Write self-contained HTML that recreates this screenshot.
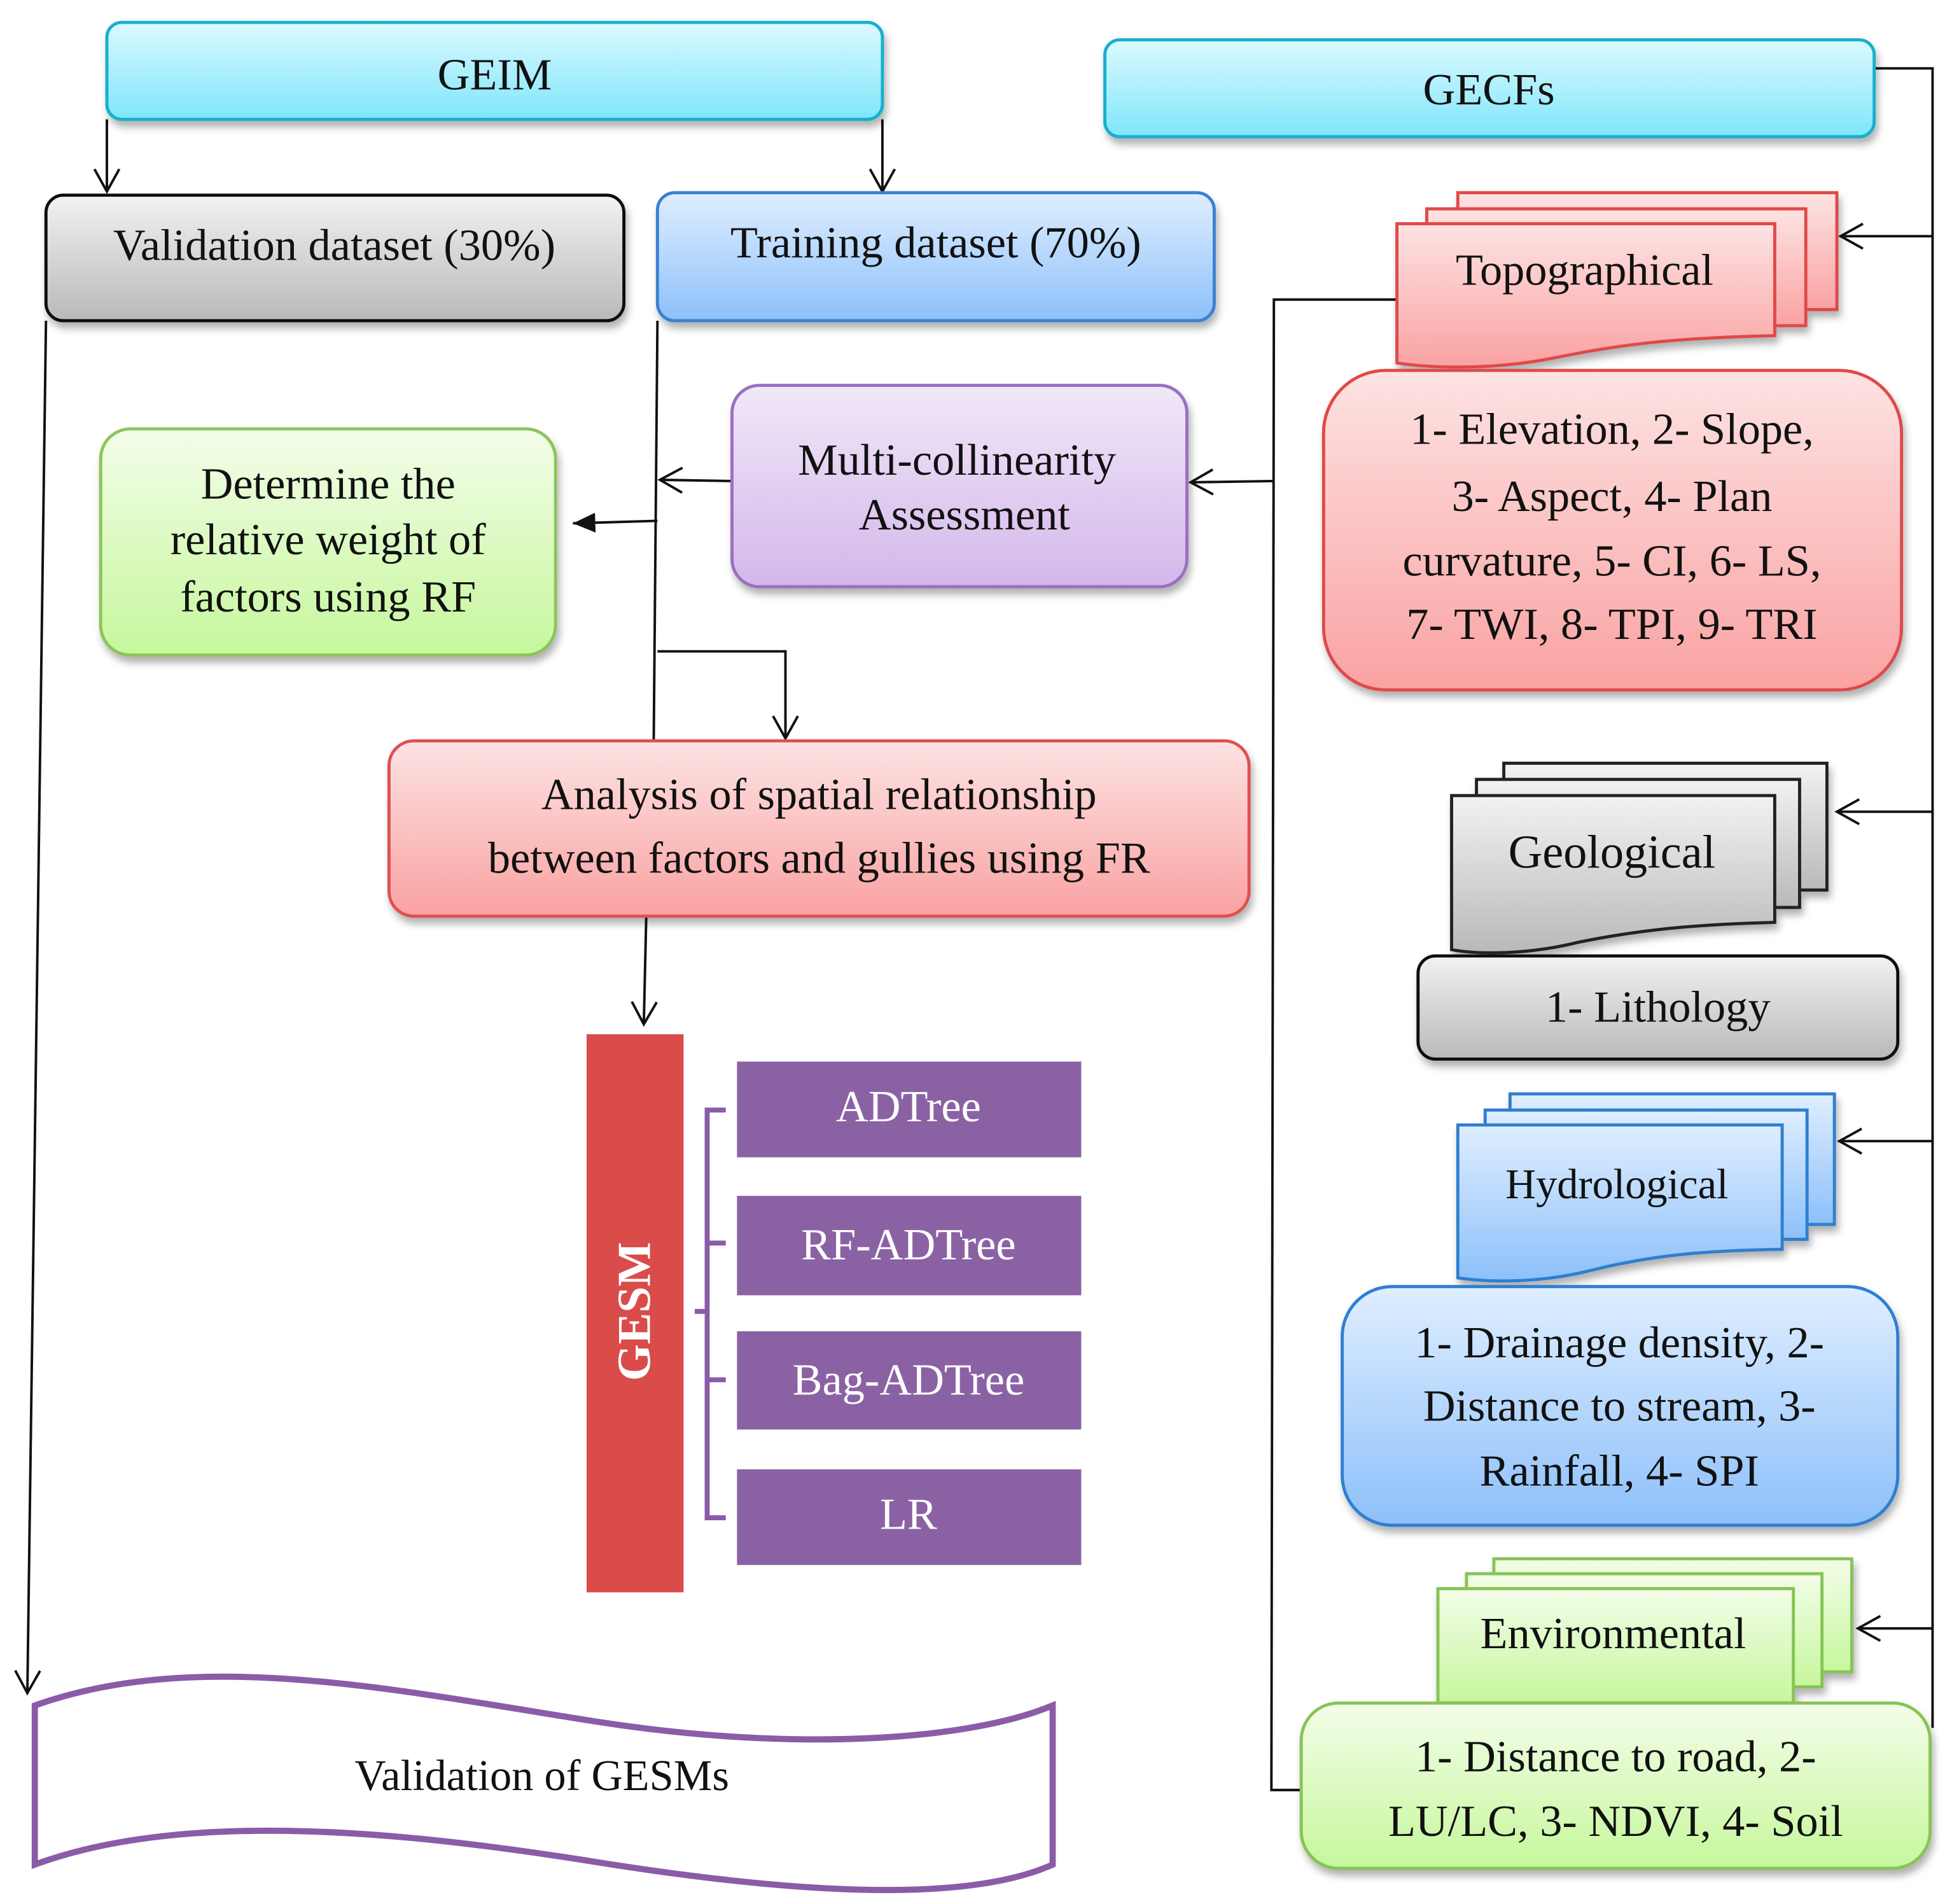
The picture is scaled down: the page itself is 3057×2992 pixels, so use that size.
<!DOCTYPE html>
<html><head><meta charset="utf-8"><style>
html,body{margin:0;padding:0;background:#fff;}
svg{display:block;}
svg, svg text, svg tspan{font-family:"Liberation Serif","Times New Roman","DejaVu Serif",serif !important;}
text{fill:#111;}
</style></head><body>
<svg width="3057" height="2992" viewBox="0 0 1565 1531.7" preserveAspectRatio="none" xmlns="http://www.w3.org/2000/svg" font-family="Liberation Serif, Times New Roman, DejaVu Serif, serif">
<defs>
<linearGradient id="cy" x1="0" y1="0" x2="0" y2="1"><stop offset="0" stop-color="#dcf9ff"/><stop offset="1" stop-color="#7ee6fb"/></linearGradient>
<linearGradient id="gr" x1="0" y1="0" x2="0" y2="1"><stop offset="0" stop-color="#f2f2f2"/><stop offset="1" stop-color="#b9b9b9"/></linearGradient>
<linearGradient id="bl" x1="0" y1="0" x2="0" y2="1"><stop offset="0" stop-color="#dfeeff"/><stop offset="1" stop-color="#8dc0fa"/></linearGradient>
<linearGradient id="pu" x1="0" y1="0" x2="0" y2="1"><stop offset="0" stop-color="#f1e8f9"/><stop offset="1" stop-color="#d3b7ea"/></linearGradient>
<linearGradient id="gn" x1="0" y1="0" x2="0" y2="1"><stop offset="0" stop-color="#f3fde9"/><stop offset="1" stop-color="#c6f79c"/></linearGradient>
<linearGradient id="rd" x1="0" y1="0" x2="0" y2="1"><stop offset="0" stop-color="#fde3e3"/><stop offset="1" stop-color="#faa2a2"/></linearGradient>
<filter id="sh" x="-10%" y="-10%" width="120%" height="130%"><feDropShadow dx="2" dy="5" stdDeviation="3" flood-color="#000" flood-opacity="0.3"/></filter>
<marker id="oa" markerWidth="24" markerHeight="24" refX="20" refY="12" orient="auto" markerUnits="userSpaceOnUse"><path d="M2,2 L20,12 L2,22" fill="none" stroke="#111" stroke-width="2"/></marker>
<marker id="fa" markerWidth="24" markerHeight="24" refX="18" refY="10" orient="auto" markerUnits="userSpaceOnUse"><path d="M0,2 L18,10 L0,18 Z" fill="#111"/></marker>
</defs>

<g fill="none" stroke="#111" stroke-width="2">
<path d="M86,96 V154" marker-end="url(#oa)"/>
<path d="M710,96 V154" marker-end="url(#oa)"/>
<path d="M37,258 L22,1362" marker-end="url(#oa)"/>
<path d="M529,258 L526,596"/>
<path d="M589,387 L531,386" marker-end="url(#oa)"/>
<path d="M529,419 L461,421" marker-end="url(#fa)"/>
<path d="M529,524 H632 V594" marker-end="url(#oa)"/>
<path d="M520,737 L518,824" marker-end="url(#oa)"/>
<path d="M1508,55 H1555 V1390"/>
<path d="M1555,190 H1481" marker-end="url(#oa)"/>
<path d="M1555,653 H1478" marker-end="url(#oa)"/>
<path d="M1555,918 H1480" marker-end="url(#oa)"/>
<path d="M1555,1310 H1495" marker-end="url(#oa)"/>
<path d="M1124,241 H1025 L1023,1440 H1048"/>
<path d="M1024,387 L958,388" marker-end="url(#oa)"/>
</g>

<rect x="86" y="18" width="624" height="78" rx="12" fill="url(#cy)" stroke="#16b0cc" stroke-width="2.5" filter="url(#sh)"/>
<text x="398" y="72" font-size="36" text-anchor="middle">GEIM</text>
<rect x="889" y="32" width="619" height="78" rx="12" fill="url(#cy)" stroke="#16b0cc" stroke-width="2.5" filter="url(#sh)"/>
<text x="1198" y="84" font-size="36" text-anchor="middle">GECFs</text>

<rect x="37" y="157" width="465" height="101" rx="14" fill="url(#gr)" stroke="#111" stroke-width="2.5" filter="url(#sh)"/>
<text x="269" y="209" font-size="36" text-anchor="middle">Validation dataset (30%)</text>
<rect x="529" y="155" width="448" height="103" rx="14" fill="url(#bl)" stroke="#3a80d2" stroke-width="2.5" filter="url(#sh)"/>
<text x="753" y="207" font-size="36" text-anchor="middle">Training dataset (70%)</text>

<rect x="589" y="310" width="366" height="162" rx="22" fill="url(#pu)" stroke="#9a70c2" stroke-width="2.5" filter="url(#sh)"/>
<text font-size="36" text-anchor="middle"><tspan x="770" y="382">Multi-collinearity</tspan><tspan x="776" y="426">Assessment</tspan></text>

<rect x="81" y="345" width="366" height="182" rx="24" fill="url(#gn)" stroke="#8cc45a" stroke-width="2.5" filter="url(#sh)"/>
<text font-size="36" text-anchor="middle"><tspan x="264" y="401">Determine the</tspan><tspan x="264" y="446">relative weight of</tspan><tspan x="264" y="492">factors using RF</tspan></text>

<rect x="313" y="596" width="692" height="141" rx="20" fill="url(#rd)" stroke="#e05050" stroke-width="2.5" filter="url(#sh)"/>
<text font-size="36" text-anchor="middle"><tspan x="659" y="651">Analysis of spatial relationship</tspan><tspan x="659" y="702">between factors and gullies using FR</tspan></text>

<rect x="472" y="832" width="78" height="449" fill="#d94c4a"/>
<text transform="translate(523,1055) rotate(-90)" font-size="38" font-weight="bold" text-anchor="middle" style="fill:#fff">GESM</text>
<g fill="none" stroke="#8a5ca8" stroke-width="4">
<path d="M584,893 H569 V1221 H584 M569,1000 H584 M569,1110 H584 M569,1055 H559"/>
</g>
<g fill="#8a62a4">
<rect x="593" y="854" width="277" height="77"/>
<rect x="593" y="962" width="277" height="80"/>
<rect x="593" y="1071" width="277" height="79"/>
<rect x="593" y="1182" width="277" height="77"/>
</g>
<g font-size="36" text-anchor="middle">
<text x="731" y="902" style="fill:#fff">ADTree</text>
<text x="731" y="1013" style="fill:#fff">RF-ADTree</text>
<text x="731" y="1122" style="fill:#fff">Bag-ADTree</text>
<text x="731" y="1230" style="fill:#fff">LR</text>
</g>

<path d="M28,1372 C160,1325 320,1360 480,1385 C640,1410 780,1400 847,1372 V1500 C780,1530 650,1525 480,1498 C330,1474 150,1455 28,1500 Z" fill="#fff" stroke="#8a5ca8" stroke-width="5"/>
<text x="436" y="1440" font-size="35" text-anchor="middle">Validation of GESMs</text>

<g fill="url(#rd)" stroke="#e04848" stroke-width="2.5" filter="url(#sh)">
<rect x="1173" y="155" width="305" height="94"/>
<rect x="1148" y="168" width="305" height="94"/>
<path d="M1124,180 H1428 V270 C1340,272 1300,278 1250,288 C1200,298 1150,296 1124,292 Z"/>
</g>
<text x="1275" y="229" font-size="36" text-anchor="middle">Topographical</text>
<rect x="1065" y="298" width="465" height="257" rx="50" fill="url(#rd)" stroke="#e04848" stroke-width="2.5" filter="url(#sh)"/>
<text font-size="36" text-anchor="middle"><tspan x="1297" y="357">1- Elevation, 2- Slope,</tspan><tspan x="1297" y="411">3- Aspect, 4- Plan</tspan><tspan x="1297" y="463">curvature, 5- CI, 6- LS,</tspan><tspan x="1297" y="514">7- TWI, 8- TPI, 9- TRI</tspan></text>

<g fill="url(#gr)" stroke="#222" stroke-width="2.5" filter="url(#sh)">
<rect x="1210" y="614" width="260" height="102"/>
<rect x="1188" y="627" width="260" height="103"/>
<path d="M1168,640 H1428 V742 C1350,744 1310,750 1270,758 C1230,768 1190,768 1168,764 Z"/>
</g>
<text x="1297" y="698" font-size="38" text-anchor="middle">Geological</text>
<rect x="1141" y="769" width="386" height="83" rx="14" fill="url(#gr)" stroke="#111" stroke-width="2.5" filter="url(#sh)"/>
<text x="1334" y="822" font-size="36" text-anchor="middle">1- Lithology</text>

<g fill="url(#bl)" stroke="#2f7fd0" stroke-width="2.5" filter="url(#sh)">
<rect x="1215" y="880" width="261" height="105"/>
<rect x="1195" y="893" width="259" height="104"/>
<path d="M1173,905 H1434 V1005 C1360,1006 1320,1012 1280,1022 C1240,1032 1200,1032 1173,1028 Z"/>
</g>
<text x="1301" y="964" font-size="34" text-anchor="middle">Hydrological</text>
<rect x="1080" y="1035" width="447" height="192" rx="40" fill="url(#bl)" stroke="#2f7fd0" stroke-width="2.5" filter="url(#sh)"/>
<text font-size="36" text-anchor="middle"><tspan x="1303" y="1092">1- Drainage density, 2-</tspan><tspan x="1303" y="1143">Distance to stream, 3-</tspan><tspan x="1303" y="1195">Rainfall, 4- SPI</tspan></text>

<g fill="url(#gn)" stroke="#86c456" stroke-width="2.5" filter="url(#sh)">
<rect x="1202" y="1254" width="288" height="91"/>
<rect x="1180" y="1266" width="286" height="91"/>
<rect x="1157" y="1278" width="286" height="92"/>
</g>
<text x="1298" y="1326" font-size="36" text-anchor="middle">Environmental</text>
<rect x="1047" y="1370" width="506" height="133" rx="30" fill="url(#gn)" stroke="#86c456" stroke-width="2.5" filter="url(#sh)"/>
<text font-size="36" text-anchor="middle"><tspan x="1300" y="1425">1- Distance to road, 2-</tspan><tspan x="1300" y="1477">LU/LC, 3- NDVI, 4- Soil</tspan></text>
</svg>
</body></html>
